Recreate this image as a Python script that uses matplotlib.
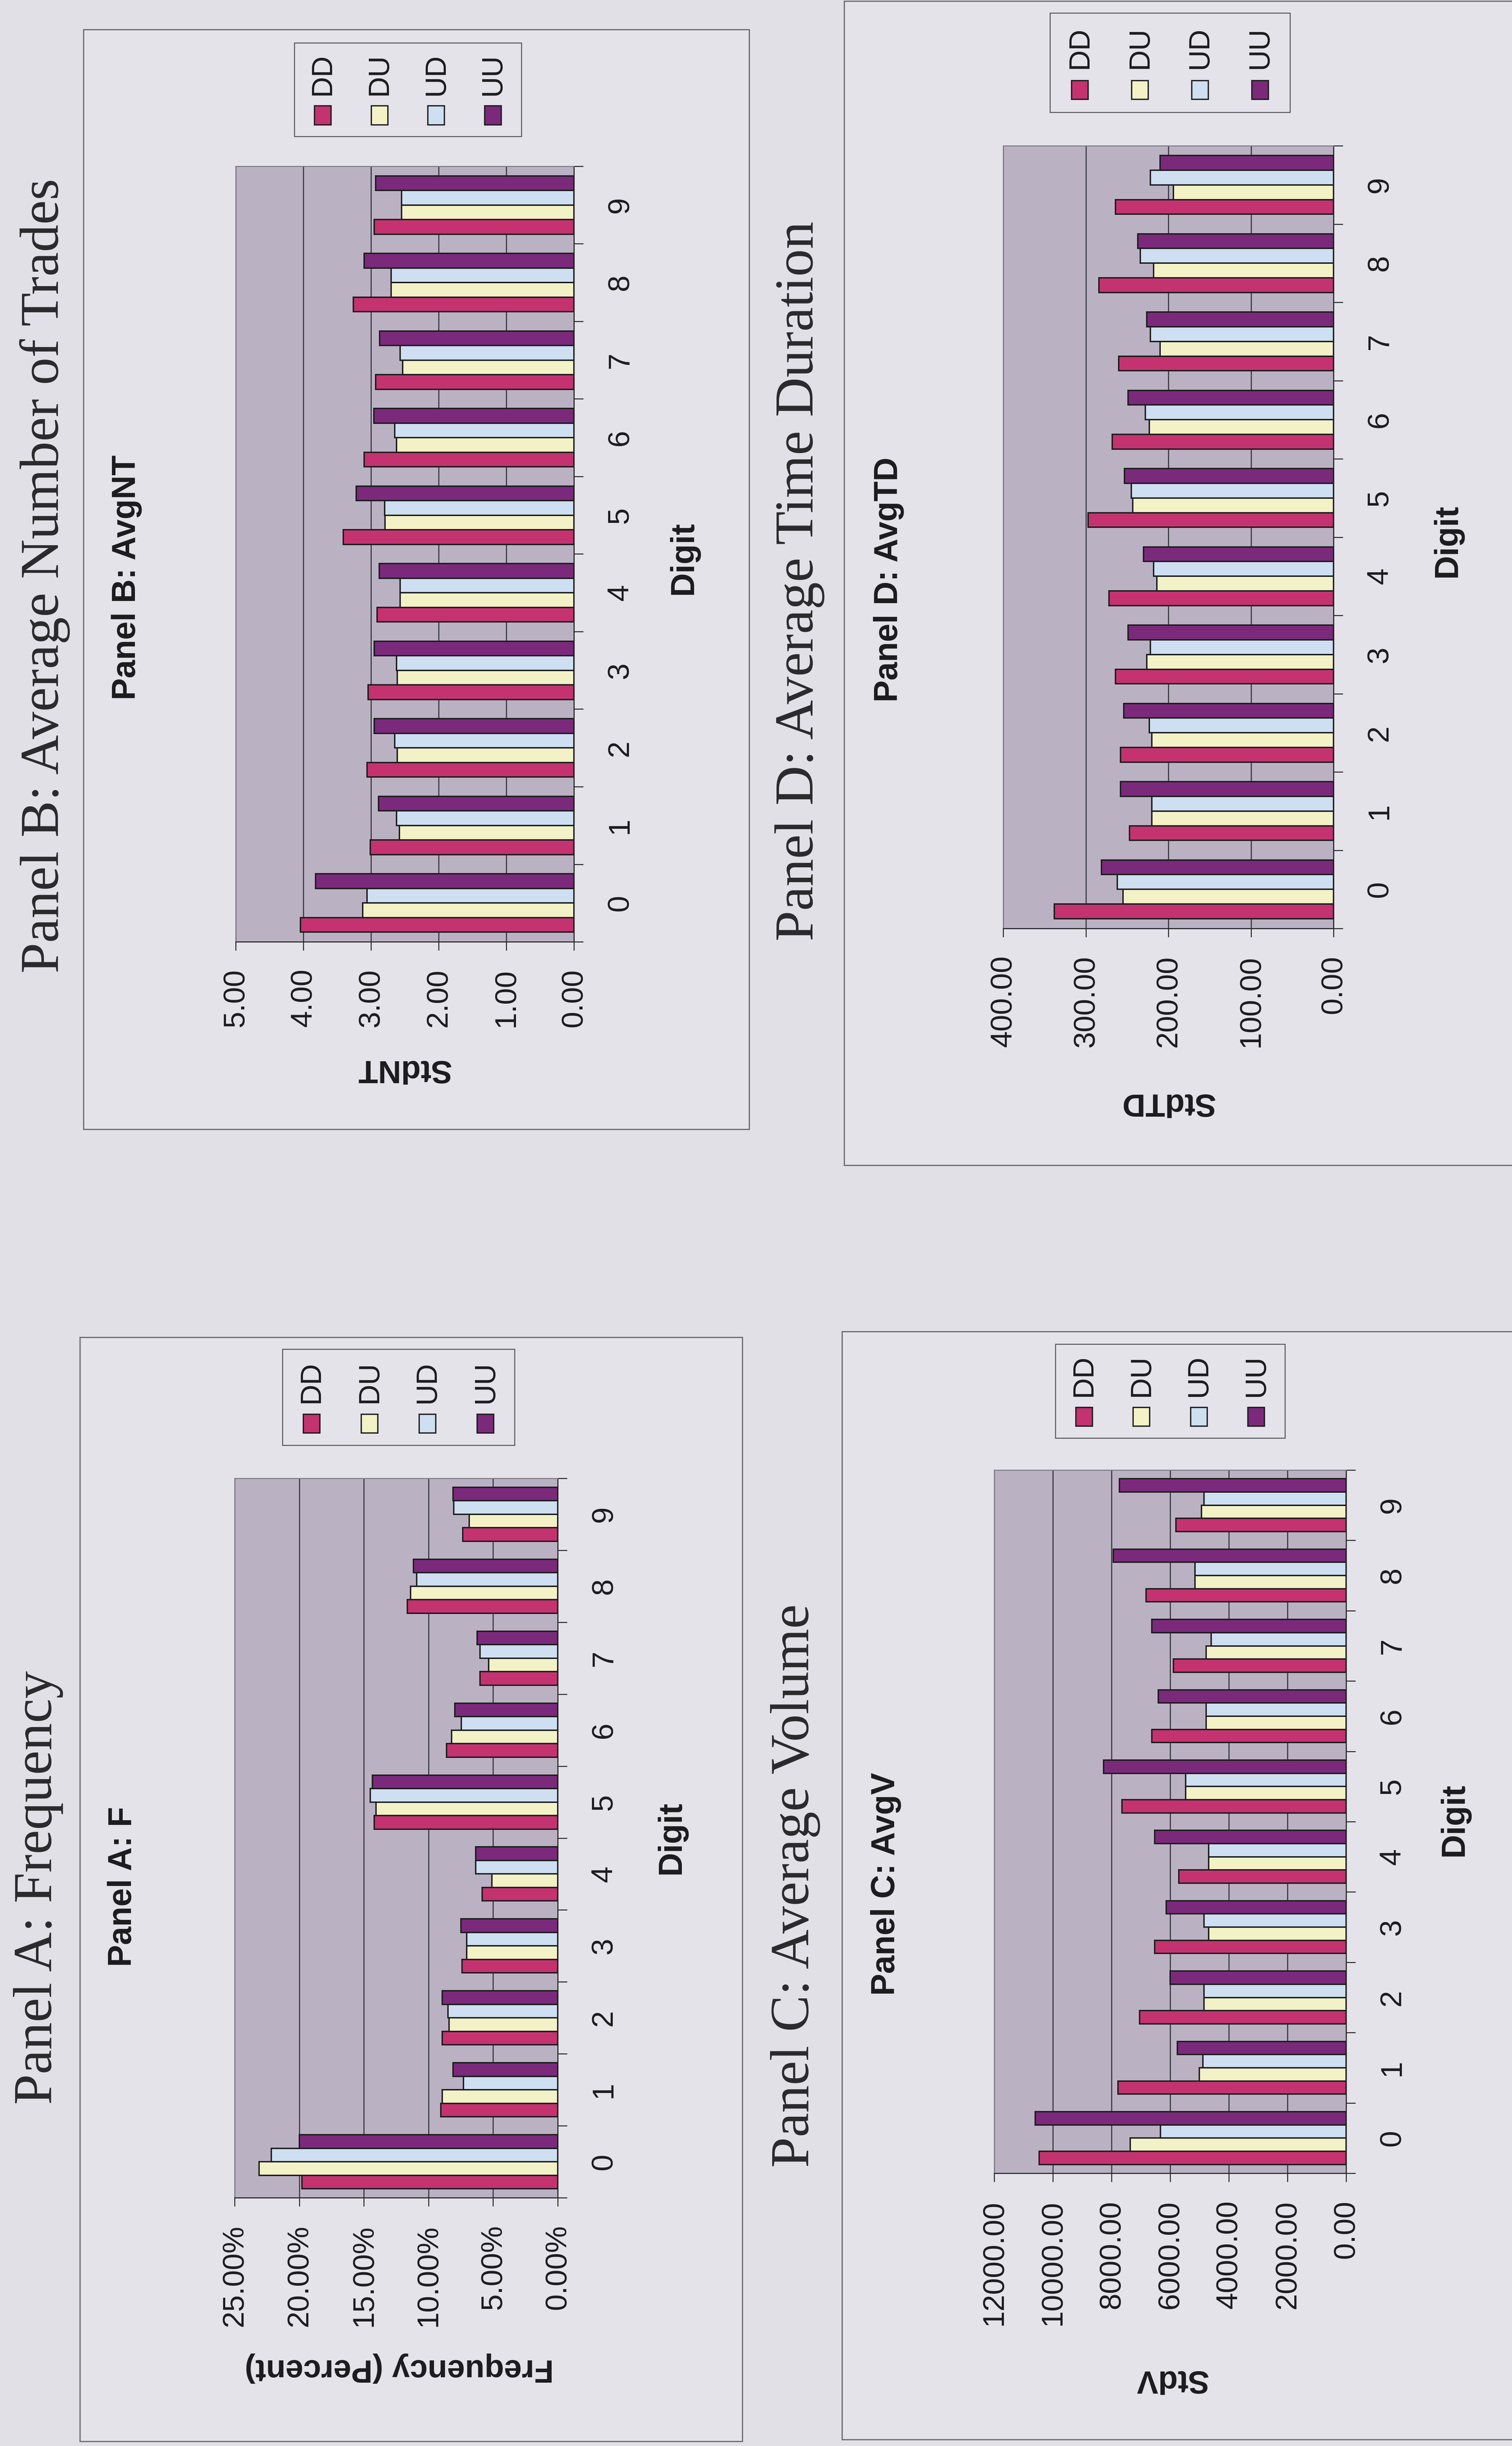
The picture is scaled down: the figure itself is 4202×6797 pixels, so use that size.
"""
Rebuild of a scanned page (rotated 90 degrees) with four grouped bar charts:
frequency, trades, volume and duration by digit for DD / DU / UD / UU.
The page is drawn as scanned, so every chart is a horizontal bar chart with
the value axis inverted and the chart text turned on its side.
"""
import matplotlib
matplotlib.use("Agg")
import matplotlib.pyplot as plt
from matplotlib.patches import Rectangle
import numpy as np

W, H = 4202, 6797          # output size in pixels
DPI = 100

plt.rcParams["font.family"] = ["Liberation Sans", "DejaVu Sans"]

digits = list(range(10))
series = ["DD", "DU", "UD", "UU"]
colors = ["#c4336f", "#f3f1c6", "#cddff0", "#7b2a7b"]

# Panel A: frequency (percent)
freq_dd = [19.8, 9.05, 8.95, 7.4, 5.85, 14.2, 8.6, 6.0, 11.65, 7.35]
freq_du = [23.1, 8.95, 8.4, 7.05, 5.1, 14.05, 8.2, 5.35, 11.4, 6.85]
freq_ud = [22.15, 7.3, 8.5, 7.05, 6.35, 14.5, 7.45, 6.0, 10.9, 8.05]
freq_uu = [20.0, 8.1, 8.95, 7.5, 6.35, 14.35, 7.95, 6.25, 11.15, 8.1]

# Panel B: StdNT
nt_dd = [4.04, 3.01, 3.06, 3.04, 2.91, 3.41, 3.10, 2.93, 3.26, 2.95]
nt_du = [3.12, 2.58, 2.61, 2.61, 2.57, 2.79, 2.62, 2.53, 2.70, 2.55]
nt_ud = [3.06, 2.62, 2.65, 2.62, 2.57, 2.80, 2.65, 2.57, 2.70, 2.55]
nt_uu = [3.82, 2.89, 2.95, 2.95, 2.88, 3.22, 2.96, 2.87, 3.10, 2.93]

# Panel C: StdV
v_dd = [10470, 7780, 7040, 6530, 5700, 7640, 6620, 5890, 6820, 5800]
v_du = [7360, 5010, 4850, 4690, 4690, 5470, 4770, 4770, 5150, 4930]
v_ud = [6330, 4880, 4850, 4850, 4690, 5470, 4770, 4600, 5150, 4850]
v_uu = [10600, 5750, 6000, 6130, 6530, 8270, 6410, 6620, 7940, 7730]

# Panel D: StdTD
td_dd = [338, 247, 258, 264, 272, 297, 268, 260, 284, 264]
td_du = [255, 220, 220, 226, 214, 243, 223, 210, 218, 194]
td_ud = [262, 220, 223, 222, 218, 245, 228, 222, 234, 222]
td_uu = [281, 258, 254, 249, 230, 253, 249, 226, 237, 210]

PAGE_BG = "#e1e0e6"
BOX_BG = "#e4e3e9"
BOX_EDGE = "#6a6a70"
PLOT_BG = "#bab2c3"
INK = "#1c1c1e"

# layout, in pixels of the scan (x right, y down)
panels = [
    dict(title="Panel A: Frequency", subtitle="Panel A: F",
         xlabel="Frequency (Percent)",
         values=[freq_dd, freq_du, freq_ud, freq_uu],
         vmax=25, step=5, fmt="{:.2f}%",
         box=(222, 3716, 2063, 6784), plot=(652, 4108, 1550, 6107),
         legend=(785, 3749, 1430, 4016),
         title_xy=(107, 5245), sub_xy=(341, 5243),
         xlabel_xy=(1110, 6580), ylabel_xy=(1866, 5106)),
    dict(title="Panel B: Average Number of Trades", subtitle="Panel B: AvgNT",
         xlabel="StdNT",
         values=[nt_dd, nt_du, nt_ud, nt_uu],
         vmax=5, step=1, fmt="{:.2f}",
         box=(232, 82, 2082, 3138), plot=(655, 462, 1595, 2617),
         legend=(818, 119, 1449, 379),
         title_xy=(125, 1600), sub_xy=(352, 1605),
         xlabel_xy=(1122, 2970), ylabel_xy=(1900, 1550)),
    dict(title="Panel C: Average Volume", subtitle="Panel C: AvgV",
         xlabel="StdV",
         values=[v_dd, v_du, v_ud, v_uu],
         vmax=12000, step=2000, fmt="{:.2f}",
         box=(2340, 3700, 4300, 6779), plot=(2763, 4085, 3741, 6039),
         legend=(2933, 3735, 3571, 3996),
         title_xy=(2210, 5240), sub_xy=(2462, 5235),
         xlabel_xy=(3255, 6611), ylabel_xy=(4042, 5056)),
    dict(title="Panel D: Average Time Duration", subtitle="Panel D: AvgTD",
         xlabel="StdTD",
         values=[td_dd, td_du, td_ud, td_uu],
         vmax=400, step=100, fmt="{:.2f}",
         box=(2346, 3, 4300, 3238), plot=(2788, 405, 3706, 2580),
         legend=(2918, 36, 3585, 312),
         title_xy=(2222, 1615), sub_xy=(2470, 1611),
         xlabel_xy=(3245, 3063), ylabel_xy=(4023, 1502)),
]


def fig_rect(x0, y0, x1, y1):
    """pixel box (top-left origin) -> [left, bottom, width, height] in figure fraction"""
    return [x0 / W, 1 - y1 / H, (x1 - x0) / W, (y1 - y0) / H]


def px_text(fig, xy, s, **kw):
    kw.setdefault("color", INK)
    fig.text(xy[0] / W, 1 - xy[1] / H, s, ha="center", va="center", zorder=5, **kw)


def add_rect(fig, box, **kw):
    l, b, w, h = fig_rect(*box)
    fig.patches.append(Rectangle((l, b), w, h, transform=fig.transFigure, **kw))


def draw_legend(fig, box):
    add_rect(fig, box, facecolor=BOX_BG, edgecolor="#58585c", linewidth=2.0, zorder=3)
    x0, y0, x1, y1 = box
    lw, lh = x1 - x0, y1 - y0
    for i, (name, c) in enumerate(zip(series, colors)):
        cx = x0 + (0.125 + 0.25 * i) * lw
        my = y0 + 0.775 * lh
        add_rect(fig, (cx - 23, my - 26, cx + 23, my + 26),
                 facecolor=c, edgecolor=INK, linewidth=2.6, zorder=4)
        fig.text(cx / W, 1 - (y0 + 0.56 * lh) / H, name, rotation=90,
                 ha="center", va="bottom", fontsize=58, color=INK, zorder=5)


def draw_panel(fig, p):
    add_rect(fig, p["box"], facecolor=BOX_BG, edgecolor=BOX_EDGE, linewidth=2.4, zorder=0)

    ax = fig.add_axes(fig_rect(*p["plot"]))
    ax.set_zorder(2)
    ax.set_facecolor(PLOT_BG)
    y = np.arange(len(digits))
    h = 0.1875
    for i, (vals, c) in enumerate(zip(p["values"], colors)):
        ax.barh(y + (i - 1.5) * h, vals, height=h, color=c,
                edgecolor=INK, linewidth=2.8, zorder=3)

    ax.set_xlim(p["vmax"], 0)
    ax.set_ylim(-0.5, len(digits) - 0.5)

    ticks = np.arange(0, p["vmax"] + p["step"] / 2, p["step"])
    ax.set_xticks(ticks, [p["fmt"].format(t) for t in ticks],
                  rotation=90, ha="center", va="top", fontsize=60, color=INK)
    ax.tick_params(axis="x", length=17, width=2.0, pad=37, color="#2a2a2a")
    ax.grid(axis="x", color="#3c3c44", linewidth=2.3, zorder=1)
    ax.set_axisbelow(True)

    ax.yaxis.tick_right()
    ax.set_yticks(y, [str(d) for d in digits], rotation=90,
                  ha="left", va="center", fontsize=60, color=INK)
    ax.set_yticks(np.arange(-0.5, len(digits), 1), minor=True)
    ax.tick_params(axis="y", which="major", length=0, pad=64)
    ax.tick_params(axis="y", which="minor", length=19, width=2.0,
                   direction="out", color="#2a2a2a")

    for side in ("left", "top"):
        ax.spines[side].set_color("#7c7a82")
        ax.spines[side].set_linewidth(2.0)
    for side in ("right", "bottom"):
        ax.spines[side].set_color("#2a2a2a")
        ax.spines[side].set_linewidth(2.2)

    draw_legend(fig, p["legend"])

    px_text(fig, p["title_xy"], p["title"], rotation=90, fontsize=110,
            family=["Liberation Serif", "DejaVu Serif"], color="#2a2a2c")
    px_text(fig, p["sub_xy"], p["subtitle"], rotation=90, fontsize=66, fontweight="bold")
    px_text(fig, p["xlabel_xy"], p["xlabel"], rotation=180, fontsize=64, fontweight="bold")
    px_text(fig, p["ylabel_xy"], "Digit", rotation=90, fontsize=66, fontweight="bold")
    return ax


fig = plt.figure(figsize=(W / DPI, H / DPI), dpi=DPI)
fig.patch.set_facecolor(PAGE_BG)
for p in panels:
    draw_panel(fig, p)

fig.savefig("out.png", dpi=DPI, facecolor=fig.get_facecolor())
plt.close(fig)
